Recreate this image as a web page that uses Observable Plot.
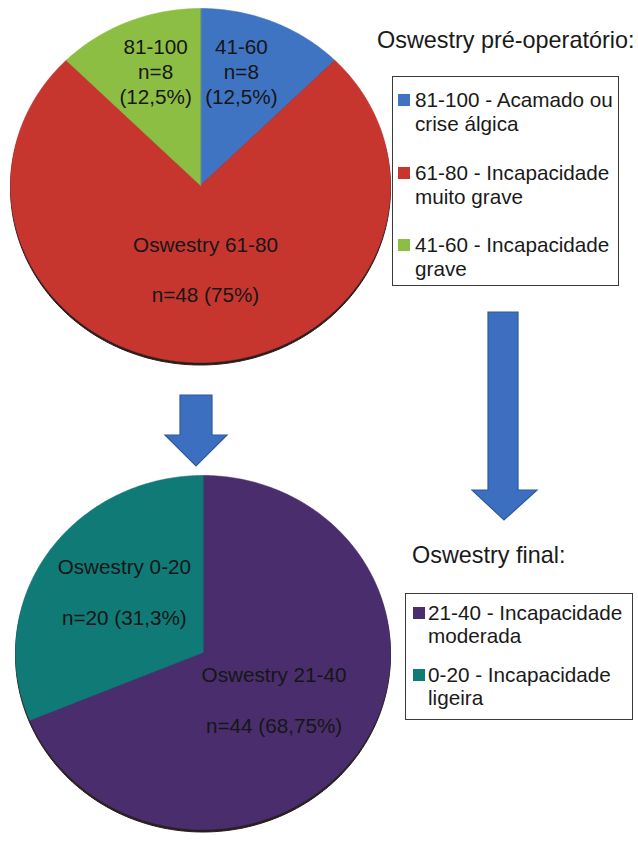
<!DOCTYPE html>
<html><head><meta charset="utf-8">
<script src="https://cdn.jsdelivr.net/npm/d3@7"></script>
<script src="https://cdn.jsdelivr.net/npm/@observablehq/plot@0.6"></script>
<style>
body{margin:0;background:#fff;font-family:"Liberation Sans",Arial,Helvetica,sans-serif;color:#1a1a1a}
#fig{position:relative;width:638px;height:842px;overflow:hidden;background:#fff}
.title{font-size:23.4px;line-height:26px;white-space:nowrap}
.box{border:1.5px solid #3a3a3a;box-sizing:border-box;background:#fff}
.item{position:absolute;font-size:20.7px;white-space:pre;color:#1a1a1a}
.sw{position:absolute;width:12px;height:12px}
</style></head><body><div id="fig"></div>
<script>
// ---- data ----
const preCategories = ["41-60", "61-80", "81-100"];
const preCounts = [8, 48, 8];
const preLabels = ["41-60\nn=8\n(12,5%)", "Oswestry 61-80\n\nn=48 (75%)", "81-100\nn=8\n(12,5%)"];
const preLegendTitle = "Oswestry pré-operatório:";
const preLegend = ["81-100 - Acamado ou\ncrise álgica", "61-80 - Incapacidade\nmuito grave", "41-60 - Incapacidade\ngrave"];

const finalCategories = ["21-40", "0-20"];
const finalCounts = [44, 20];
const finalLabels = ["Oswestry 21-40\n\nn=44 (68,75%)", "Oswestry 0-20\n\nn=20 (31,3%)"];
const finalLegendTitle = "Oswestry final:";
const finalLegend = ["21-40 - Incapacidade\nmoderada", "0-20 - Incapacidade\nligeira"];

// ---- styles ----
const preColors = ["#3f74c2", "#c6362f", "#8dbe44"];
const finalColors = ["#4a2d6c", "#0f7a76"];
const FONT = "Liberation Sans, Arial, Helvetica, sans-serif";

function pieChart(counts, labels, colors, o) {
  const total = d3.sum(counts);
  let acc = 0;
  const marks = [];
  const ring = d3.range(0, 361, 1).map(d => ({x: Math.sin(d * Math.PI / 180), y: Math.cos(d * Math.PI / 180)}));
  marks.push(Plot.line(ring, {x: "x", y: "y", fill: "#2a1d1d", stroke: "#2a1d1d", strokeWidth: 1, dy: 2.5, curve: "linear-closed"}));
  counts.forEach((c, i) => {
    const a0 = acc / total * 2 * Math.PI; acc += c; const a1 = acc / total * 2 * Math.PI;
    const n = Math.max(2, Math.ceil((a1 - a0) / (Math.PI / 360)));
    const pts = [{x: 0, y: 0}];
    for (let k = 0; k <= n; k++) { const a = a0 + (a1 - a0) * k / n; pts.push({x: Math.sin(a), y: Math.cos(a)}); }
    marks.push(Plot.line(pts, {x: "x", y: "y", fill: colors[i], stroke: colors[i], strokeWidth: 0.6, curve: "linear-closed"}));
  });
  acc = 0;
  counts.forEach((c, i) => {
    const a0 = acc / total * 2 * Math.PI; acc += c; const a1 = acc / total * 2 * Math.PI;
    const am = (a0 + a1) / 2, r = o.labelR[i];
    marks.push(Plot.text([{x: r * Math.sin(am), y: r * Math.cos(am), t: labels[i]}],
      {x: "x", y: "y", text: "t", dx: o.labelDx[i], fontSize: 20.7, lineHeight: o.lineHeight[i], fill: "#161616", fontFamily: FONT}));
  });
  return Plot.plot({
    width: o.width, height: o.height, margin: 0,
    x: {domain: [-1, 1], axis: null}, y: {domain: [-1, 1], axis: null},
    style: {overflow: "visible", background: "transparent", fontFamily: FONT},
    marks
  });
}

const fig = document.getElementById("fig");
function place(el, left, top) { el.style.position = "absolute"; el.style.left = left + "px"; el.style.top = top + "px"; fig.appendChild(el); return el; }

place(pieChart(preCounts, preLabels, preColors, {width: 380, height: 354, labelR: [0.70, 0.47, 0.70], labelDx: [-10, 5, 6], lineHeight: [1.22, 1.22, 1.22]}), 10, 8);
place(pieChart(finalCounts, finalLabels, finalColors, {width: 375, height: 354, labelR: [0.475, 0.62], labelDx: [-3, 18], lineHeight: [1.22, 1.22]}), 15, 475);

// arrows (decorative)
const ns = "http://www.w3.org/2000/svg";
const arrows = document.createElementNS(ns, "svg");
arrows.setAttribute("width", 638); arrows.setAttribute("height", 842);
arrows.style.position = "absolute"; arrows.style.left = "0"; arrows.style.top = "0"; arrows.style.pointerEvents = "none";
[
  "180,395 212,395 212,435 227,435 196,466 165,435 180,435",
  "488,312 518,312 518,490 537,490 504,520 472,490 488,490"
].forEach(p => {
  const pg = document.createElementNS(ns, "polygon");
  pg.setAttribute("points", p); pg.setAttribute("fill", "#3d6fc0"); pg.setAttribute("stroke", "#2c5a9c"); pg.setAttribute("stroke-width", "1.2");
  arrows.appendChild(pg);
});
fig.appendChild(arrows);

function legend(title, items, colors, g) {
  const t = document.createElement("div"); t.className = "title"; t.textContent = title;
  place(t, g.titleX, g.titleY);
  const box = document.createElement("div"); box.className = "box";
  box.style.width = g.w + "px"; box.style.height = g.h + "px";
  place(box, g.x, g.y);
  items.forEach((txt, i) => {
    const top = g.first + i * g.step;
    const sw = document.createElement("div"); sw.className = "sw"; sw.style.background = colors[i];
    sw.style.left = (g.x + g.swX) + "px"; sw.style.top = (top + g.lh / 2 - 6) + "px"; sw.style.position = "absolute";
    fig.appendChild(sw);
    const it = document.createElement("div"); it.className = "item"; it.textContent = txt;
    it.style.lineHeight = g.lh + "px";
    place(it, g.x + g.txtX, top);
  });
}
legend(preLegendTitle, preLegend, preColors, {titleX: 377, titleY: 27, x: 392, y: 76, w: 227, h: 210, first: 88, step: 72.5, lh: 24, swX: 6, txtX: 23});
legend(finalLegendTitle, finalLegend, finalColors, {titleX: 412, titleY: 542, x: 405, y: 593, w: 228, h: 127, first: 602, step: 62, lh: 22.5, swX: 8, txtX: 23});
</script></body></html>
